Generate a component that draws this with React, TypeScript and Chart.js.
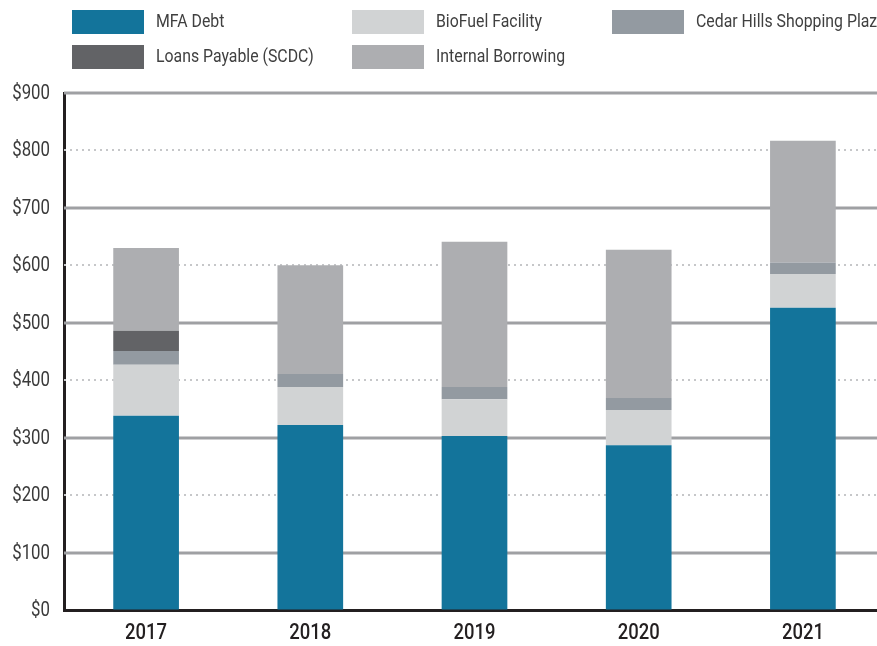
import React, { useEffect, useRef } from "react";
import { Chart, registerables } from "chart.js";

Chart.register(...registerables);

const years = ["2017", "2018", "2019", "2020", "2021"];
const mfaDebt = [338, 322, 303, 287, 526];
const bioFuel = [89, 66, 64, 61, 59];
const cedarHills = [24, 23, 21, 21, 20];
const loansPayable = [35, 0, 0, 0, 0];
const internalBorrowing = [144, 189, 253, 258, 212];

const seriesNames = [
  "MFA Debt",
  "BioFuel Facility",
  "Cedar Hills Shopping Plaza",
  "Loans Payable (SCDC)",
  "Internal Borrowing",
];
const seriesColors = ["#13749b", "#d1d3d4", "#939aa1", "#626366", "#adaeb1"];

const FONT = "Roboto, 'Liberation Sans', sans-serif";

function drawText(
  ctx: CanvasRenderingContext2D,
  text: string,
  x: number,
  y: number,
  align: CanvasTextAlign,
  font: string,
  color: string,
  squeeze: number
) {
  ctx.save();
  ctx.translate(x, y);
  ctx.scale(squeeze, 1);
  ctx.font = font;
  ctx.fillStyle = color;
  ctx.textAlign = align;
  ctx.textBaseline = "middle";
  ctx.fillText(text, 0, 0);
  ctx.restore();
}

const gridPlugin = {
  id: "customGrid",
  beforeDatasetsDraw(chart: any) {
    const { ctx, chartArea, scales } = chart;
    const y = scales.y;
    ctx.save();
    y.ticks.forEach((t: any) => {
      const v = t.value;
      if (v === 0) return;
      const py = Math.round(y.getPixelForValue(v));
      ctx.beginPath();
      if (v % 200 === 100) {
        ctx.setLineDash([]);
        ctx.strokeStyle = "#9fa0a3";
        ctx.lineWidth = 3;
      } else {
        ctx.setLineDash([2, 4]);
        ctx.strokeStyle = "#c6c7c9";
        ctx.lineWidth = 2;
      }
      ctx.moveTo(chartArea.left, py);
      ctx.lineTo(chart.width, py);
      ctx.stroke();
    });
    ctx.restore();
  },
};

const labelsPlugin = {
  id: "customLabels",
  afterDraw(chart: any) {
    const { ctx, scales, chartArea } = chart;
    const y = scales.y;
    y.ticks.forEach((t: any) => {
      drawText(ctx, String(t.label), 42, y.getPixelForValue(t.value) + 1, "right", `20px ${FONT}`, "#3a3a3a", 0.84);
    });
    const x = scales.x;
    x.ticks.forEach((t: any, i: number) => {
      drawText(ctx, String(t.label), x.getPixelForTick(i), chartArea.bottom + 23, "center", `500 22px ${FONT}`, "#231f20", 0.84);
    });
    const colX = [64, 344, 604];
    const rowY = [2, 37];
    chart.data.datasets.forEach((ds: any, i: number) => {
      const col = i % 3;
      const row = Math.floor(i / 3);
      const bx = colX[col];
      const by = rowY[row];
      ctx.save();
      ctx.fillStyle = ds.backgroundColor;
      ctx.fillRect(bx, by, 72, 24);
      ctx.restore();
      drawText(ctx, ds.label, bx + 84, by + 12, "left", `18px ${FONT}`, "#404040", 0.88);
    });
  },
};

export default function App() {
  const ref = useRef<HTMLCanvasElement | null>(null);

  useEffect(() => {
    if (!ref.current) return;
    const datasets = [mfaDebt, bioFuel, cedarHills, loansPayable, internalBorrowing].map(
      (data, i) => ({
        label: seriesNames[i],
        data,
        backgroundColor: seriesColors[i],
        borderWidth: 0,
        categoryPercentage: 1,
        barPercentage: 0.4,
      })
    );
    const chart = new Chart(ref.current, {
      type: "bar",
      data: { labels: years, datasets },
      plugins: [gridPlugin, labelsPlugin],
      options: {
        animation: false,
        responsive: false,
        devicePixelRatio: 1,
        layout: { padding: { top: 85, left: 0, right: 13, bottom: 0 } },
        plugins: { legend: { display: false }, tooltip: { enabled: false } },
        scales: {
          x: {
            stacked: true,
            grid: { display: false, drawTicks: false },
            border: { display: true, color: "#231f20", width: 3 },
            ticks: { display: false },
            afterFit: (s: any) => {
              s.height = 36;
            },
          },
          y: {
            stacked: true,
            min: 0,
            max: 900,
            grid: { display: true, drawOnChartArea: false, drawTicks: false },
            border: { display: true, color: "#231f20", width: 3 },
            ticks: {
              display: false,
              stepSize: 100,
              callback: (v: any) => "$" + v,
            },
            afterFit: (s: any) => {
              s.width = 56;
            },
          },
        },
      } as any,
    });
    return () => chart.destroy();
  }, []);

  return (
    <div
      style={{
        position: "fixed",
        left: 0,
        top: 0,
        width: 877,
        height: 646,
        overflow: "hidden",
        background: "#fff",
      }}
    >
      <canvas
        ref={ref}
        width={890}
        height={638}
        style={{ position: "absolute", left: 8, top: 8, width: 890, height: 638 }}
      />
    </div>
  );
}
